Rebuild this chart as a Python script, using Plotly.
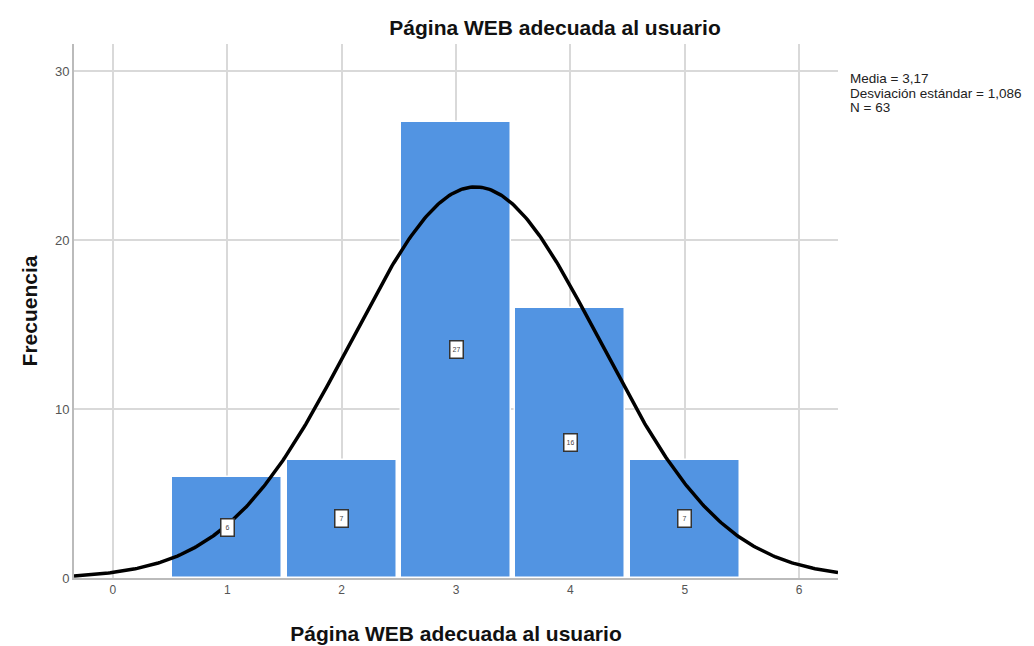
import numpy as np
import plotly.graph_objects as go

categories = [1, 2, 3, 4, 5]
frequencies = [6, 7, 27, 16, 7]
mean_val = 3.17
sd_val = 1.086
n_total = 63
x_ticks = [0, 1, 2, 3, 4, 5, 6]
y_ticks = [0, 10, 20, 30]

FONT = "Liberation Sans, Arial, sans-serif"
BAR_COLOR = "#5294E2"
W, H = 1026, 638
PL, PR, PT, PB = 66, 830, 36, 570

xs = np.linspace(-0.34, 6.34, 400)
curve = n_total * 1.0 / (sd_val * np.sqrt(2 * np.pi)) * np.exp(-0.5 * ((xs - mean_val) / sd_val) ** 2)

fig = go.Figure()
fig.add_trace(go.Bar(x=categories, y=frequencies, width=0.96,
                     marker=dict(color=BAR_COLOR, line=dict(color="white", width=1.5)),
                     hoverinfo="x+y", showlegend=False))
fig.add_trace(go.Scatter(x=xs, y=curve, mode="lines",
                         line=dict(color="black", width=3.5), showlegend=False))

for c, f in zip(categories, frequencies):
    fig.add_annotation(x=c, y=f / 2, text=str(f), showarrow=False,
                       font=dict(family=FONT, size=7, color="#444444"),
                       bgcolor="white", bordercolor="#333333", borderwidth=1.5,
                       borderpad=2, width=8, height=12)

stats_lines = [f"Media = {str(mean_val).replace('.', ',')}",
               f"Desviación estándar = {str(sd_val).replace('.', ',')}",
               f"N = {n_total}"]
for i, line in enumerate(stats_lines):
    ypix = 70 + 15 * i  # page pixel (already offset)
    fig.add_annotation(xref="paper", yref="paper", x=(840 - PL) / (PR - PL),
                       y=1 - (ypix - PT) / (PB - PT),
                       xanchor="left", yanchor="middle", align="left", showarrow=False,
                       text=line, font=dict(family=FONT, size=13.5, color="#222222"))

fig.update_layout(
    width=W, height=H,
    margin=dict(l=PL, r=W - PR, t=PT, b=H - PB, autoexpand=False),
    paper_bgcolor="white", plot_bgcolor="white",
    title=dict(text="<b>Página WEB adecuada al usuario</b>", x=547 / W, xanchor="center",
               y=1 - 20 / H, yanchor="middle",
               font=dict(family=FONT, size=21, color="#111111")),
    xaxis=dict(range=[-0.34, 6.34], tickvals=x_ticks, showgrid=True, gridcolor="#D9D9D9", gridwidth=1.5,
               showline=True, linecolor="#BBBBBB", linewidth=2, zeroline=False, automargin=False,
               ticks="", tickfont=dict(family=FONT, size=12, color="#555555"),
               title=dict(text="<b>Página WEB adecuada al usuario</b>", standoff=30,
                          font=dict(family=FONT, size=21, color="#111111"))),
    yaxis=dict(range=[0, 31.6], tickvals=y_ticks, showgrid=True, gridcolor="#D9D9D9", gridwidth=1.5,
               showline=True, linecolor="#BBBBBB", linewidth=2, zeroline=False, automargin=False,
               ticks="", tickfont=dict(family=FONT, size=13, color="#555555"),
               title=dict(text="<b>Frecuencia</b>", standoff=12,
                          font=dict(family=FONT, size=21, color="#111111"))),
    bargap=0,
)

fig.write_html("out.html")
